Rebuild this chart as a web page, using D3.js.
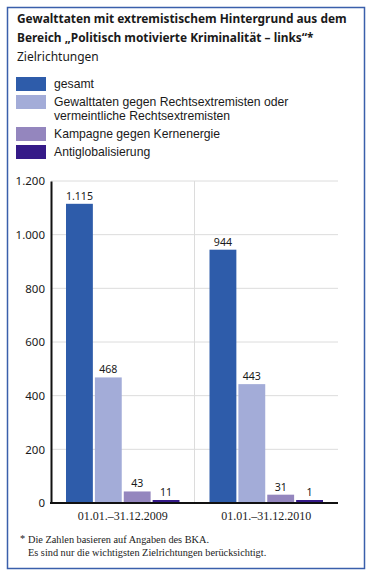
<!DOCTYPE html>
<html>
<head>
<meta charset="utf-8">
<script src="https://cdn.jsdelivr.net/npm/d3@7"></script>
<style>
  body { margin: 0; background: #fff; }
  svg { display: block; }
  .title { font-family: "Noto Sans", sans-serif; font-weight: bold; font-size: 11.9px; fill: #1a1a1a; }
  .sub { font-family: "Noto Sans", sans-serif; font-size: 12px; fill: #1a1a1a; }
  .legend text { font-family: "Liberation Sans", sans-serif; font-size: 12.2px; fill: #1a1a1a; }
  .tick text { font-family: "Noto Sans", sans-serif; font-size: 11.5px; fill: #1a1a1a; }
  .val { font-family: "Noto Sans", sans-serif; font-size: 10.6px; fill: #1a1a1a; }
  .xlab { font-family: "Liberation Serif", serif; font-size: 12px; fill: #1a1a1a; }
  .foot { font-family: "Liberation Serif", serif; font-size: 10.3px; fill: #1a1a1a; }
</style>
</head>
<body>
<svg id="chart" width="374" height="572"></svg>
<script>
// data
const periods = ["01.01.–31.12.2009", "01.01.–31.12.2010"];
const seriesNames = [
  ["gesamt"],
  ["Gewalttaten gegen Rechtsextremisten oder", "vermeintliche Rechtsextremisten"],
  ["Kampagne gegen Kernenergie"],
  ["Antiglobalisierung"]
];
const gesamt = [1115, 944];
const gegenRechts = [468, 443];
const kernenergie = [43, 31];
const antiglob = [11, 1];
const yTicks = [0, 200, 400, 600, 800, 1000, 1200];
const colors = ["#2e5caa", "#a3acd8", "#9486be", "#351a88"];

const series = [gesamt, gegenRechts, kernenergie, antiglob];

const de = d3.formatLocale({ decimal: ",", thousands: ".", grouping: [3], currency: ["", "€"] });
const fmt = de.format(",d");

const svg = d3.select("#chart");

// frame
svg.append("rect")
    .attr("x", 7.5).attr("y", 7.5)
    .attr("width", 357).attr("height", 561)
    .attr("fill", "none")
    .attr("stroke", "#3a5fab")
    .attr("stroke-width", 1.5);

// title
svg.append("text").attr("class", "title").attr("x", 17).attr("y", 23)
    .text("Gewalttaten mit extremistischem Hintergrund aus dem");
svg.append("text").attr("class", "title").attr("x", 17).attr("y", 42)
    .text("Bereich „Politisch motivierte Kriminalität – links“*");
svg.append("text").attr("class", "sub").attr("x", 17).attr("y", 61)
    .text("Zielrichtungen");

// legend
const legendTops = [77, 95, 127, 145];
const legend = svg.append("g").attr("class", "legend");
seriesNames.forEach((lines, i) => {
    legend.append("rect")
        .attr("x", 16).attr("y", legendTops[i])
        .attr("width", 30).attr("height", 14)
        .attr("fill", colors[i]);
    lines.forEach((l, j) => {
        legend.append("text")
            .attr("x", 54).attr("y", legendTops[i] + 11 + j * 14)
            .text(l);
    });
});

// chart area
const margin = { left: 51, right: 36, top: 181, bottom: 69 };
const width = 374;
const height = 572;
const x0 = d3.scaleBand().domain(periods).range([margin.left, width - margin.right]).paddingInner(0).paddingOuter(0);
const x1 = d3.scaleBand().domain(d3.range(series.length)).range([15, x0.bandwidth() - 15]).paddingInner(0.07);
const y = d3.scaleLinear().domain([0, 1200]).range([height - margin.bottom, margin.top]);

// grid
svg.append("g")
    .selectAll("line")
    .data(yTicks.slice(1))
    .join("line")
    .attr("x1", margin.left).attr("x2", width - margin.right)
    .attr("y1", d => y(d)).attr("y2", d => y(d))
    .attr("stroke", "#dcdcdc").attr("stroke-width", 1);

svg.append("line")
    .attr("x1", x0(periods[1])).attr("x2", x0(periods[1]))
    .attr("y1", margin.top).attr("y2", y(0))
    .attr("stroke", "#dcdcdc").attr("stroke-width", 1);

// bars
const groups = svg.append("g")
    .selectAll("g")
    .data(periods)
    .join("g")
    .attr("transform", d => `translate(${x0(d)},0)`);

// tiny values still get a visible sliver above the baseline
groups.selectAll("rect")
    .data((d, pi) => series.map((s, si) => ({ si, v: s[pi] })))
    .join("rect")
    .attr("x", d => x1(d.si))
    .attr("width", x1.bandwidth())
    .attr("y", d => Math.min(y(d.v), y(0) - 3))
    .attr("height", d => Math.max(y(0) - y(d.v), 3))
    .attr("fill", d => colors[d.si]);

groups.selectAll("text")
    .data((d, pi) => series.map((s, si) => ({ si, v: s[pi] })))
    .join("text")
    .attr("class", "val")
    .attr("text-anchor", "middle")
    .attr("x", d => x1(d.si) + x1.bandwidth() / 2)
    .attr("y", d => Math.min(y(d.v), y(0) - 3) - 4)
    .text(d => fmt(d.v));

// axes
const yAxis = d3.axisLeft(y).tickValues(yTicks).tickFormat(fmt).tickSize(0).tickPadding(6);
svg.append("g")
    .attr("transform", `translate(${margin.left},0)`)
    .call(yAxis)
    .call(g => g.select(".domain").attr("stroke", "#111").attr("stroke-width", 2));

svg.append("line")
    .attr("x1", margin.left - 1).attr("x2", width - margin.right)
    .attr("y1", y(0)).attr("y2", y(0))
    .attr("stroke", "#111").attr("stroke-width", 2);

svg.append("g")
    .selectAll("text")
    .data(periods)
    .join("text")
    .attr("class", "xlab")
    .attr("text-anchor", "middle")
    .attr("x", d => x0(d) + x0.bandwidth() / 2)
    .attr("y", 520)
    .text(d => d);

// footnote
svg.append("text").attr("class", "foot").attr("x", 20).attr("y", 542).text("*");
svg.append("text").attr("class", "foot").attr("x", 28).attr("y", 543).text("Die Zahlen basieren auf Angaben des BKA.");
svg.append("text").attr("class", "foot").attr("x", 28).attr("y", 556).text("Es sind nur die wichtigsten Zielrichtungen berücksichtigt.");
</script>
</body>
</html>
